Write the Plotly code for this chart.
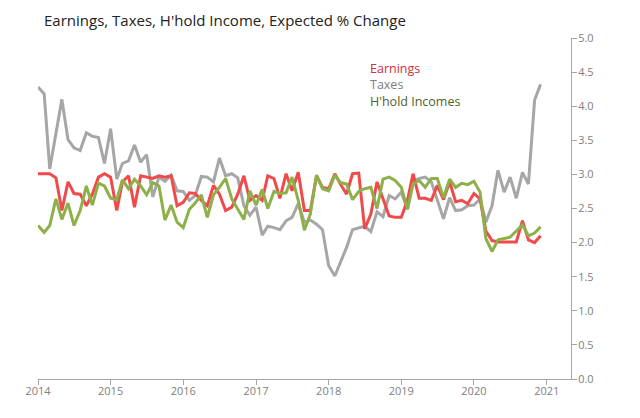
import pandas as pd
import plotly.graph_objects as go

months = pd.date_range("2014-01-01", periods=84, freq="MS")

earnings = [
    3.01, 3.01, 3.01, 2.95, 2.47, 2.89, 2.72, 2.71, 2.54, 2.71, 2.96, 3.01,
    2.96, 2.47, 2.89, 2.98, 2.52, 2.98, 2.96, 2.94, 2.98, 2.96, 2.98, 2.54,
    2.59, 2.73, 2.72, 2.62, 2.54, 2.84, 2.71, 2.47, 2.52, 2.71, 2.98, 2.62,
    2.69, 2.62, 2.98, 2.94, 2.65, 3.01, 2.76, 3.03, 2.47, 2.47, 2.98, 2.81,
    2.79, 3.01, 2.86, 2.71, 3.01, 3.02, 2.20, 2.42, 2.89, 2.64, 2.39, 2.37,
    2.37, 2.62, 3.01, 2.65, 2.65, 2.62, 2.84, 2.63, 2.89, 2.60, 2.62, 2.57,
    2.72, 2.64, 2.17, 2.03, 2.01, 2.01, 2.01, 2.01, 2.32, 2.04, 2.00, 2.10,
]

taxes = [
    4.28, 4.18, 3.08, 3.60, 4.10, 3.51, 3.39, 3.35, 3.61, 3.56, 3.54, 3.16,
    3.67, 2.93, 3.16, 3.20, 3.43, 3.18, 3.29, 2.67, 2.96, 2.90, 2.99, 2.76,
    2.75, 2.62, 2.69, 2.97, 2.96, 2.89, 3.24, 2.98, 3.01, 2.95, 2.54, 2.40,
    2.52, 2.11, 2.24, 2.22, 2.19, 2.32, 2.37, 2.57, 2.30, 2.33, 2.27, 2.19,
    1.66, 1.51, 1.71, 1.93, 2.19, 2.21, 2.24, 2.16, 2.45, 2.38, 2.69, 2.64,
    2.74, 2.49, 2.90, 2.94, 2.96, 2.89, 2.64, 2.35, 2.66, 2.47, 2.48, 2.54,
    2.55, 2.64, 2.30, 2.54, 3.06, 2.74, 2.96, 2.65, 3.03, 2.86, 4.09, 4.32,
]

hhold = [
    2.25, 2.15, 2.25, 2.64, 2.34, 2.58, 2.25, 2.47, 2.83, 2.55, 2.87, 2.83,
    2.65, 2.63, 2.92, 2.79, 2.93, 2.83, 2.70, 2.88, 2.83, 2.33, 2.55, 2.30,
    2.22, 2.49, 2.58, 2.70, 2.37, 2.70, 2.81, 2.94, 2.64, 2.49, 2.34, 2.76,
    2.55, 2.78, 2.50, 2.75, 2.72, 2.73, 2.96, 2.62, 2.18, 2.42, 2.99, 2.79,
    2.76, 2.99, 2.88, 2.86, 2.63, 2.75, 2.79, 2.81, 2.50, 2.93, 2.96, 2.91,
    2.81, 2.49, 2.86, 2.91, 2.81, 2.94, 2.94, 2.66, 2.93, 2.81, 2.87, 2.85,
    2.90, 2.74, 2.06, 1.87, 2.04, 2.06, 2.08, 2.17, 2.26, 2.10, 2.14, 2.23,
]

series_names = ["Earnings", "Taxes", "H'hold Incomes"]
title_text = "Earnings, Taxes, H'hold Income, Expected % Change"

line_colors = {"Earnings": "#F04A4A", "Taxes": "#A6A6A6", "H'hold Incomes": "#8DB04A"}
label_colors = {"Earnings": "#D0303A", "Taxes": "#808080", "H'hold Incomes": "#4F6228"}

FONT = "Open Sans"
fig = go.Figure()
for name, vals in [("Taxes", taxes), ("Earnings", earnings), ("H'hold Incomes", hhold)]:
    fig.add_trace(go.Scatter(x=months, y=vals, mode="lines", name=name,
                             line=dict(color=line_colors[name], width=3),
                             showlegend=False))

for i, name in enumerate(series_names):
    fig.add_annotation(text=name, xref="paper", yref="paper", x=(368 - 38) / 532.7,
                       y=1 - (68 + 16.5 * i - 38) / 341, xanchor="left", yanchor="middle",
                       showarrow=False, font=dict(family=FONT, size=12.5, color=label_colors[name]))

fig.update_layout(
    width=640, height=418,
    margin=dict(l=38, r=69, t=38, b=39),
    paper_bgcolor="white", plot_bgcolor="white",
    title=dict(text=title_text, x=44 / 640, xanchor="left", y=1 - 21 / 418, yanchor="middle",
               font=dict(family=FONT, size=15, color="#222222")),
    font=dict(family=FONT),
)
fig.update_xaxes(range=["2014-01-01", "2021-05-03"], showgrid=False, zeroline=False,
                 showline=True, linecolor="#A6A6A6", linewidth=1,
                 ticks="outside", ticklen=5, tickcolor="#A6A6A6",
                 dtick="M12", tick0="2014-01-01", tickformat="%Y",
                 ticklabelstandoff=-3,
                 tickfont=dict(family=FONT, size=11, color="#808080"))
fig.update_yaxes(range=[0, 5], side="right", showgrid=False, zeroline=False,
                 showline=True, linecolor="#A6A6A6", linewidth=1,
                 ticks="outside", ticklen=5, tickcolor="#A6A6A6",
                 dtick=0.5, tickformat=".1f", ticklabelstandoff=-1,
                 tickfont=dict(family=FONT, size=11, color="#808080"))

fig.write_html("out.html")
